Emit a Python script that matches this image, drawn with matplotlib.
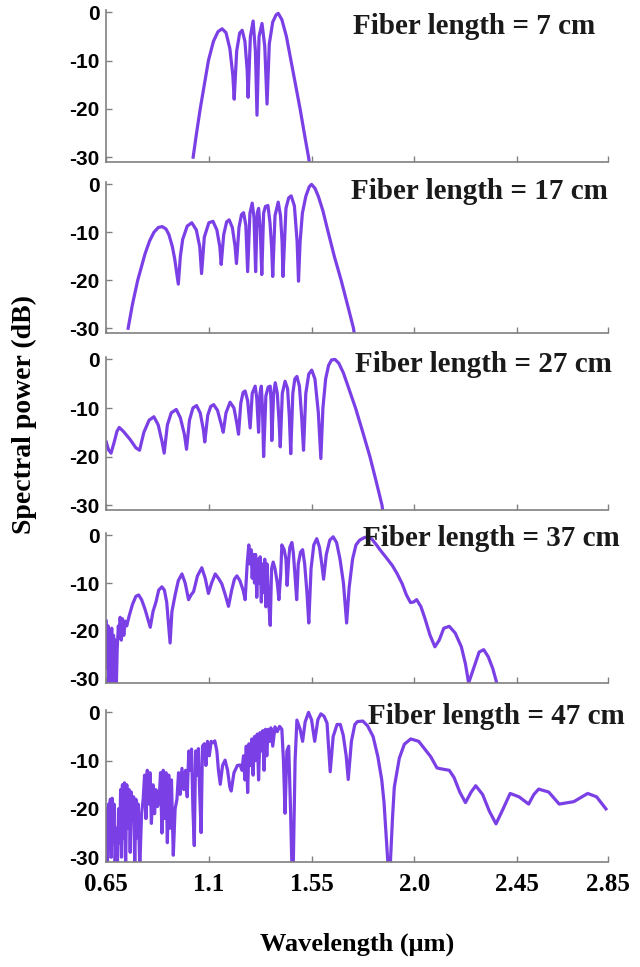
"""Supercontinuum spectra for five fiber lengths, stacked panels -> out.png"""
import matplotlib
matplotlib.use("Agg")
import matplotlib.pyplot as plt

# ---- spectra: wavelength (um) vs spectral power (dB) ----
wl_7 = [1.031, 1.046, 1.062, 1.080, 1.098, 1.120, 1.140, 1.158, 1.175, 1.192, 1.205, 1.211,
        1.222, 1.235, 1.246, 1.258, 1.268, 1.272, 1.282, 1.294, 1.304, 1.311, 1.320, 1.333,
        1.345, 1.355, 1.365, 1.380, 1.395, 1.404, 1.420, 1.440, 1.460, 1.480, 1.500, 1.520,
        1.537, 1.543]
db_7 = [-30, -25, -20, -15, -10, -6, -4, -3.4, -4.2, -7.5, -13, -18,
        -8, -4.3, -3.7, -6, -12, -17.6, -5, -1.8, -8, -21.3, -5, -2.3,
        -7, -19, -6.5, -2.0, -0.5, -0.2, -1.5, -5, -10, -15, -20, -25.5,
        -30, -32]

wl_17 = [0.746, 0.765, 0.788, 0.820, 0.840, 0.859, 0.878, 0.895, 0.912, 0.925, 0.940, 0.950, 0.966,
         0.975, 0.985, 1.005, 1.025, 1.045, 1.060, 1.068,
         1.080, 1.100, 1.118, 1.135, 1.148, 1.154,
         1.165, 1.178, 1.189, 1.203, 1.215, 1.221,
         1.232, 1.243, 1.252, 1.262, 1.270,
         1.280, 1.290, 1.298, 1.305, 1.312, 1.318, 1.325, 1.332, 1.340, 1.348, 1.359,
         1.368, 1.375, 1.380, 1.390, 1.404, 1.414, 1.421, 1.425,
         1.438, 1.450, 1.461, 1.475, 1.487, 1.493,
         1.500, 1.510, 1.525, 1.540, 1.550, 1.565, 1.580, 1.600, 1.618, 1.650,
         1.680, 1.710, 1.734, 1.740]
db_17 = [-30, -25, -20, -14.5, -11.8, -10, -9, -8.8, -9.3, -10.5, -13, -15.5, -20.8,
         -15, -11.5, -8.7, -8.0, -9.5, -13, -18.6,
         -11, -8, -7.7, -9.5, -13, -16.7,
         -10.5, -7.8, -7.4, -9, -13, -16.5,
         -9, -6.3, -5.9, -8.5, -18.2,
         -6, -3.9, -7, -18.2, -6, -5.0, -9, -18.8, -6, -4.6, -4.4,
         -8, -13, -19.2, -6.5, -3.7, -6.5, -12, -19.2,
         -5, -2.8, -2.4, -4.5, -12, -20.2,
         -12, -6, -2.5, -0.5, 0, -0.8, -2.5, -5.5, -9, -15,
         -20, -25.5, -30, -32]

wl_27 = [0.650, 0.660, 0.671, 0.685, 0.697, 0.707, 0.725, 0.755, 0.780, 0.796,
         0.815, 0.838, 0.859, 0.878, 0.895, 0.904, 0.918, 0.935, 0.957, 0.975,
         0.993, 1.002, 1.015, 1.030, 1.046, 1.062, 1.076, 1.082, 1.095, 1.108,
         1.121, 1.138, 1.155, 1.163, 1.175, 1.193, 1.210, 1.222, 1.230,
         1.240, 1.250, 1.259, 1.270, 1.281, 1.290, 1.303, 1.310, 1.318, 1.324,
         1.330, 1.335, 1.340, 1.350, 1.360, 1.369, 1.373, 1.376, 1.384, 1.391, 1.400,
         1.408, 1.413, 1.422, 1.434, 1.445, 1.453, 1.459, 1.468, 1.477,
         1.486, 1.497, 1.507, 1.515, 1.525, 1.538, 1.551, 1.565, 1.580, 1.591,
         1.600, 1.612, 1.625, 1.638, 1.653, 1.670, 1.690, 1.710, 1.743, 1.775, 1.806,
         1.833, 1.859, 1.865]
db_27 = [-17, -18.6, -19.3, -17, -14.8, -14, -14.8, -16.5, -18.2, -18.7,
         -15, -12.5, -11.8, -13.5, -17, -19.3, -13.5, -11, -10.3, -12,
         -15.5, -18.5, -12.5, -10, -9.5, -11, -14.5, -17, -11.5, -9.7,
         -9.3, -10.5, -13.5, -15, -11, -8.8, -10, -13, -15.4,
         -9, -6.8, -6.5, -8.5, -14.1, -7, -5.5, -8, -15, -7,
         -5.5, -10, -20, -7.5, -5.7, -5.5, -9, -16.7, -7, -4.8, -7,
         -13, -18, -7, -4.5, -6, -12, -19.4, -7, -4,
         -3.5, -5.5, -12, -18.7, -7, -3, -2.2, -4, -11, -20.4,
         -10, -4, -1.2, -0.1, 0, -0.8, -2.8, -5.5, -10, -15, -20,
         -25, -30, -32]

wl_37 = [0.650, 0.654, 0.658, 0.662, 0.666, 0.670, 0.674, 0.678, 0.682, 0.686,
         0.690, 0.694, 0.698, 0.703, 0.707, 0.711, 0.716, 0.721, 0.727, 0.733,
         0.740, 0.750, 0.765, 0.780, 0.792, 0.805, 0.820, 0.832, 0.843, 0.855,
         0.868, 0.880, 0.894, 0.905, 0.915, 0.922, 0.930, 0.938, 0.952, 0.966,
         0.982, 0.996, 1.011, 1.022, 1.033, 1.050, 1.069, 1.084, 1.098, 1.112,
         1.128, 1.142, 1.157, 1.172, 1.186, 1.200, 1.212, 1.223, 1.236, 1.250,
         1.259, 1.268, 1.275, 1.280, 1.285, 1.290, 1.295, 1.300, 1.305, 1.310,
         1.315, 1.320, 1.325, 1.330, 1.335, 1.340, 1.345, 1.350, 1.355, 1.360,
         1.369, 1.375, 1.382, 1.390, 1.400, 1.407, 1.415, 1.420, 1.430, 1.438,
         1.443, 1.450, 1.455, 1.464, 1.470, 1.477, 1.485, 1.492, 1.502, 1.511,
         1.520, 1.530, 1.538, 1.548, 1.560, 1.573, 1.585, 1.595, 1.603, 1.615,
         1.630, 1.645, 1.660, 1.675, 1.690, 1.704, 1.715, 1.730, 1.745, 1.761,
         1.780, 1.797, 1.815, 1.835, 1.850, 1.875, 1.904, 1.925, 1.948, 1.966,
         1.984, 1.997, 2.011, 2.030, 2.047, 2.070, 2.091, 2.110, 2.130, 2.154,
         2.180, 2.207, 2.225, 2.239, 2.260, 2.285, 2.305, 2.325, 2.345, 2.368]
db_37 = [-18, -28, -19, -32, -20, -27, -19.5, -32, -21, -26,
         -22, -32, -24, -19, -21.5, -17.2, -22, -17.5, -21, -18,
         -19, -17, -14.5, -12.8, -12.5, -13.5, -15.5, -17.5, -19.3, -16,
         -14, -11.5, -10.8, -11.5, -14, -18, -22.6, -16, -12.5, -9.5,
         -8.1, -10, -13.5, -12.5, -11.8, -8.5, -6.8, -9, -12.2, -10,
         -8.1, -9, -10.2, -12.5, -14.9, -11.5, -9.2, -8.5, -9.5, -11.5,
         -13.5, -6, -2, -6, -3, -9, -4, -10, -4, -13,
         -5, -10, -4.5, -14, -6, -12, -5, -15, -6, -12,
         -18.9, -7, -5.6, -7, -10, -13.5, -8, -2, -3, -5,
         -10.5, -5, -2.5, -1.5, -3.5, -8, -13.5, -6, -3.5, -3,
         -6, -12, -18.4, -7, -2, -0.7, -2.5, -6, -9.2, -4,
         -1, -0.3, -1.5, -5, -10, -18.4, -11, -5, -2, -1,
         -0.5, -0.3, -0.8, -2, -3, -4.5, -6.3, -8, -10.2, -12.5,
         -14.1, -14, -13.5, -15, -17.4, -21, -23.4, -22, -19.5, -19.1,
         -20.5, -23.4, -27, -31, -28, -24.5, -24, -25.5, -28, -32]

wl_47 = [0.650, 0.655, 0.660, 0.664, 0.668, 0.672, 0.676, 0.680, 0.684, 0.689,
         0.694, 0.699, 0.704, 0.709, 0.713, 0.717, 0.721, 0.725, 0.730, 0.735,
         0.740, 0.745, 0.750, 0.755, 0.760, 0.765, 0.770, 0.775, 0.780, 0.785,
         0.790, 0.797, 0.805, 0.812, 0.818, 0.824, 0.830, 0.836, 0.842, 0.848,
         0.855, 0.862, 0.868, 0.875, 0.882, 0.888, 0.894, 0.900, 0.906, 0.912,
         0.918, 0.924, 0.930, 0.936, 0.944, 0.952, 0.960, 0.967, 0.974, 0.982,
         0.990, 0.998, 1.005, 1.012, 1.018, 1.024, 1.030, 1.036, 1.042, 1.048,
         1.054, 1.060, 1.066, 1.072, 1.080, 1.087, 1.094, 1.102, 1.110, 1.118,
         1.126, 1.135, 1.142, 1.150, 1.160, 1.171, 1.182, 1.192, 1.198, 1.210,
         1.225, 1.237, 1.245, 1.252, 1.258, 1.264, 1.270, 1.276, 1.282, 1.288,
         1.294, 1.300, 1.306, 1.312, 1.318, 1.324, 1.330, 1.336, 1.342, 1.348,
         1.354, 1.360, 1.366, 1.372, 1.380, 1.390, 1.400, 1.410, 1.420, 1.427,
         1.434, 1.442, 1.450, 1.458, 1.464, 1.470, 1.478, 1.486, 1.500, 1.511,
         1.522, 1.537, 1.550, 1.564, 1.578, 1.591, 1.605, 1.618, 1.632, 1.645,
         1.662, 1.676, 1.689, 1.702, 1.711, 1.725, 1.740, 1.752, 1.775, 1.796,
         1.820, 1.841, 1.858, 1.868, 1.886, 1.895, 1.905, 1.913, 1.935, 1.957,
         1.985, 2.020, 2.045, 2.073, 2.100, 2.118, 2.154, 2.175, 2.200, 2.225,
         2.250, 2.270, 2.300, 2.330, 2.359, 2.390, 2.421, 2.460, 2.502, 2.525,
         2.546, 2.590, 2.636, 2.700, 2.761, 2.800, 2.841]
db_47 = [-20, -32, -19, -28, -18, -30, -17.8, -25, -19, -32,
         -24, -32, -20, -27, -16, -30, -15, -26, -14.6, -32,
         -15, -24, -16, -29, -16.5, -22, -17.5, -32, -18, -26,
         -19, -32, -21, -18, -13, -22, -12, -19, -12.5, -23,
         -15, -21, -16, -19.5, -18, -12.5, -25, -12, -22, -12.5,
         -27, -13, -24, -14, -29.6, -20, -18, -12.5, -17, -11.6,
         -16, -12, -17.5, -8, -12, -7.6, -20, -27.6, -8, -13,
         -7.5, -17, -24.9, -7, -6.5, -11, -6, -9, -6, -6.3,
         -5.9, -8, -12, -14.9, -11, -9.9, -12, -15.5, -16.3, -12.5,
         -11, -10.9, -12, -9, -14, -7, -16.6, -6.5, -11, -5.5,
         -13, -5, -10, -4.5, -14, -4.2, -8, -3.8, -12, -3.5,
         -9, -3.5, -6, -3.2, -7, -3, -4, -2.9, -3.5, -10,
         -20.9, -8, -7, -20, -32, -32, -10, -1.6, -3.5, -6,
         -2, 0, -1.5, -6, -1.5, -0.3, -0.8, -2.2, -12.3, -5,
         -2.5, -2.5, -4.7, -9, -13.9, -6, -2.5, -1.9, -1.8, -2.8,
         -5, -9.2, -14, -18.7, -32, -32, -22, -15.5, -9.5, -6.6,
         -5.5, -6, -7.5, -9.2, -11.5, -11.7, -12, -13.5, -16.5, -18.7,
         -16.5, -15.2, -17, -20.5, -23.1, -20, -16.8, -17.5, -19, -17,
         -15.9, -16.5, -19, -18.5, -16.8, -17.5, -20]

spectra = [(wl_7, db_7), (wl_17, db_17), (wl_27, db_27), (wl_37, db_37), (wl_47, db_47)]
lengths = ["7", "17", "27", "37", "47"]
xticks = [0.65, 1.1, 1.55, 2.0, 2.45, 2.85]
xticklabels = ["0.65", "1.1", "1.55", "2.0", "2.45", "2.85"]
yticks = [0, -10, -20, -30]

# ---- layout (figure fractions) ----
boxes = [[0.166, 0.8325, 0.784, 0.1572],
         [0.166, 0.6556, 0.784, 0.1562],
         [0.166, 0.4726, 0.784, 0.1582],
         [0.166, 0.2937, 0.784, 0.1551],
         [0.166, 0.1086, 0.784, 0.1572]]
note_xy = [(0.492, 0.89), (0.488, 0.935), (0.496, 0.95), (0.512, 0.965), (0.522, 0.955)]

serif = "Liberation Serif"
sans = "Liberation Sans"
color = "#7b3fe6"
gray = "#808080"

fig = plt.figure(figsize=(6.4, 9.67), dpi=100)
for i, ((wl, db), L) in enumerate(zip(spectra, lengths)):
    ax = fig.add_axes(boxes[i])
    ax.plot(wl, db, color=color, lw=2.3, solid_joinstyle="round")
    ax.set_xlim(0.65, 2.85)
    ax.set_ylim(-31, 0.5)
    ax.set_xticks(xticks)
    ax.set_yticks(yticks)
    ax.set_yticklabels([str(t) for t in yticks], fontfamily=sans, fontweight="bold", fontsize=15)
    if i == len(spectra) - 1:
        ax.set_xticklabels(xticklabels, fontfamily=serif, fontweight="bold", fontsize=18)
    else:
        ax.set_xticklabels([])
    for s in ["top", "right"]:
        ax.spines[s].set_visible(False)
    for s in ["left", "bottom"]:
        ax.spines[s].set_color(gray); ax.spines[s].set_linewidth(1.2)
    ax.tick_params(direction="in", length=4, width=1, color=gray)
    ax.tick_params(axis="y", pad=5)
    ax.tick_params(axis="x", pad=8)
    ax.text(note_xy[i][0], note_xy[i][1], "Fiber length = %s cm" % L, transform=ax.transAxes,
            ha="left", va="center", fontfamily=serif, fontweight="bold", fontsize=21, color="#1a1a1a")

fig.text(0.038, 0.571, "Spectral power (dB)", rotation=90, ha="center", va="center",
         fontfamily=serif, fontweight="bold", fontsize=20)
fig.text(0.558, 0.024, "Wavelength (\u03bcm)", ha="center", va="center",
         fontfamily=serif, fontweight="bold", fontsize=19)

fig.savefig("out.png", dpi=100)
